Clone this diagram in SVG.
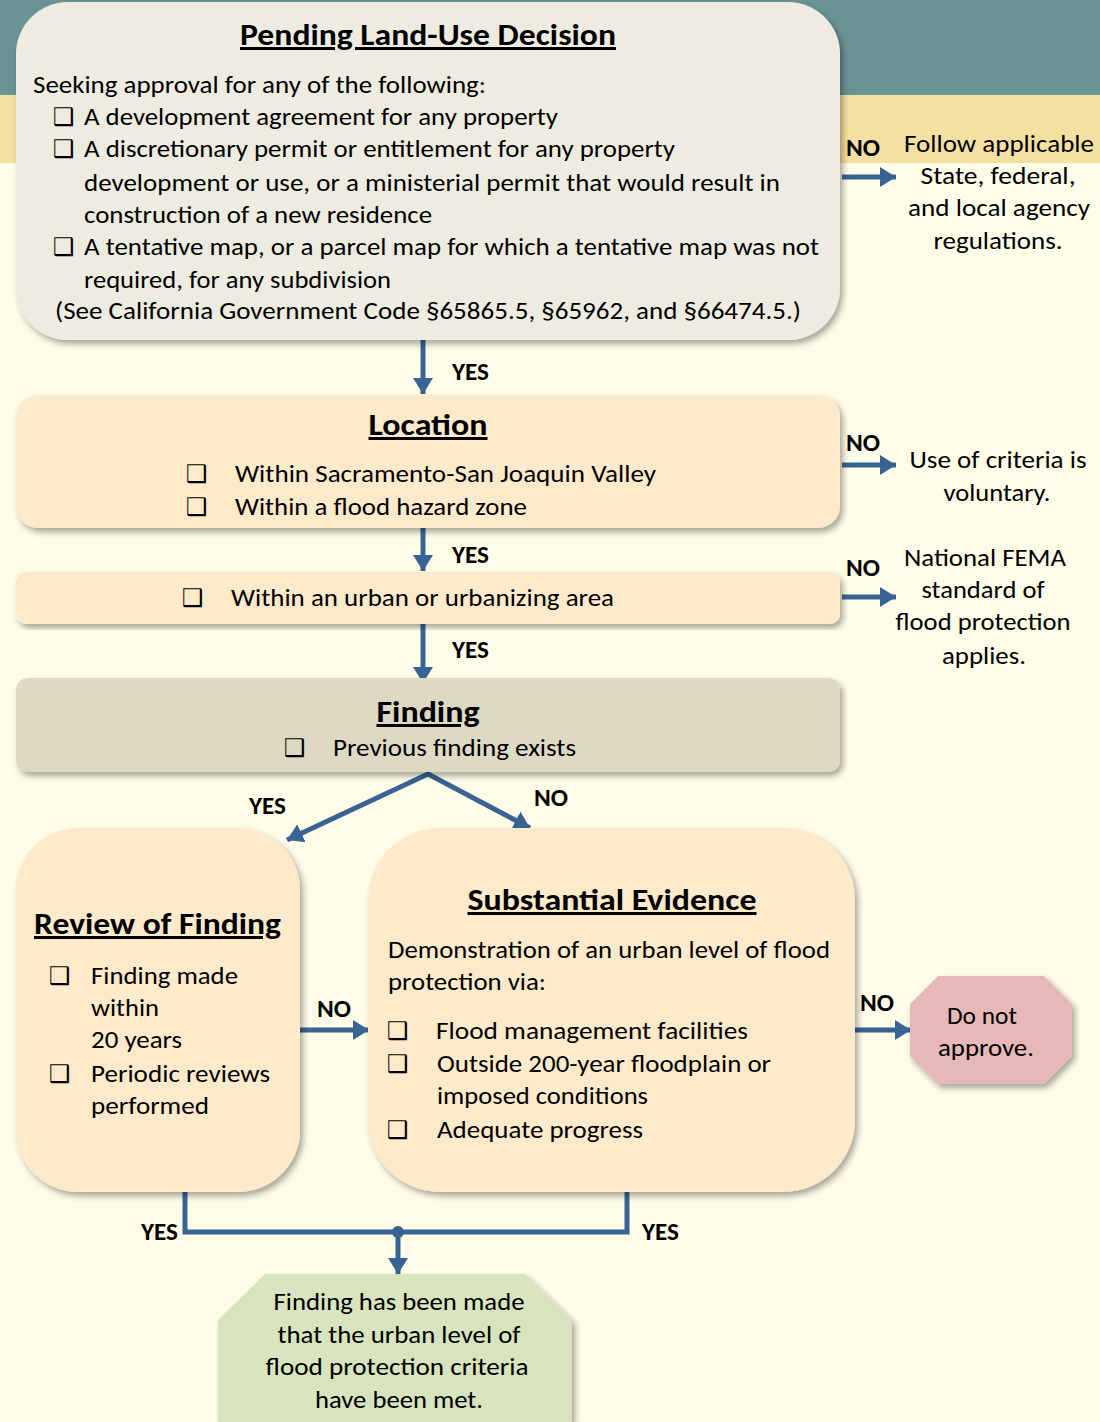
<svg xmlns="http://www.w3.org/2000/svg" width="1100" height="1422" viewBox="0 0 1100 1422">
<style>
text{font-family:Carlito,Lato,"Liberation Sans",sans-serif;fill:#000;}
.t{font-size:25px;}
.h{font-size:30px;font-weight:bold;text-decoration:underline;}
.lb{font-size:24px;font-weight:bold;}
.cb{font-family:"DejaVu Sans",sans-serif;font-size:24px;font-weight:bold;}
.c{text-anchor:middle;}
.con{stroke:#386394;stroke-width:5;fill:none;}
</style>
<defs>
<filter id="sh" x="-10%" y="-10%" width="120%" height="120%">
<feDropShadow dx="3" dy="4" stdDeviation="3" flood-color="#000" flood-opacity="0.35"/>
</filter>
<marker id="ah" markerUnits="userSpaceOnUse" markerWidth="18" markerHeight="22" refX="16" refY="11" orient="auto-start-reverse">
<path d="M0,1 L16,11 L0,21 Z" fill="#386394"/>
</marker>
</defs>
<rect x="0" y="0" width="1100" height="1422" fill="#fffde8"/>
<rect x="0" y="0" width="1100" height="95" fill="#6a9396"/>
<rect x="0" y="95" width="1100" height="68" fill="#f5e0a2"/>

<g id="connectors">
<line class="con" x1="842" y1="177" x2="896" y2="177" marker-end="url(#ah)"/>
<line class="con" x1="423" y1="340" x2="423" y2="394" marker-end="url(#ah)"/>
<line class="con" x1="842" y1="465" x2="896" y2="465" marker-end="url(#ah)"/>
<line class="con" x1="423" y1="528" x2="423" y2="571" marker-end="url(#ah)"/>
<line class="con" x1="842" y1="597" x2="896" y2="597" marker-end="url(#ah)"/>
<line class="con" x1="423" y1="624" x2="423" y2="683" marker-end="url(#ah)"/>
<path class="con" d="M287,840 L428,774 L530,828" marker-start="url(#ah)" marker-end="url(#ah)"/>
<line class="con" x1="300" y1="1030" x2="369" y2="1030" marker-end="url(#ah)"/>
<line class="con" x1="855" y1="1030" x2="911" y2="1030" marker-end="url(#ah)"/>
<polyline class="con" points="185,1192 185,1232 627,1232 627,1192"/>
<circle cx="398" cy="1232" r="6" fill="#386394"/>
<line class="con" x1="398" y1="1232" x2="398" y2="1274" marker-end="url(#ah)"/>
<text class="lb" x="846" y="156" textLength="34" lengthAdjust="spacingAndGlyphs">NO</text>
<text class="lb" x="452" y="380" textLength="37" lengthAdjust="spacingAndGlyphs">YES</text>
<text class="lb" x="846" y="451" textLength="34" lengthAdjust="spacingAndGlyphs">NO</text>
<text class="lb" x="452" y="563" textLength="37" lengthAdjust="spacingAndGlyphs">YES</text>
<text class="lb" x="846" y="576" textLength="34" lengthAdjust="spacingAndGlyphs">NO</text>
<text class="lb" x="452" y="658" textLength="37" lengthAdjust="spacingAndGlyphs">YES</text>
<text class="lb" x="249" y="814" textLength="37" lengthAdjust="spacingAndGlyphs">YES</text>
<text class="lb" x="534" y="806" textLength="34" lengthAdjust="spacingAndGlyphs">NO</text>
<text class="lb" x="317" y="1017" textLength="34" lengthAdjust="spacingAndGlyphs">NO</text>
<text class="lb" x="860" y="1011" textLength="34" lengthAdjust="spacingAndGlyphs">NO</text>
<text class="lb" x="141" y="1240" textLength="37" lengthAdjust="spacingAndGlyphs">YES</text>
<text class="lb" x="642" y="1240" textLength="37" lengthAdjust="spacingAndGlyphs">YES</text>
</g>

<g id="pending">
<rect x="16" y="2" width="824" height="338" rx="52" fill="#eeece1" filter="url(#sh)"/>
<text class="h c" x="428" y="45" textLength="376" lengthAdjust="spacingAndGlyphs">Pending Land-Use Decision</text>
<text class="t" x="33" y="93" textLength="453" lengthAdjust="spacingAndGlyphs">Seeking approval for any of the following:</text>
<text class="cb" x="53" y="125">❑</text>
<text class="t" x="84" y="125" textLength="474" lengthAdjust="spacingAndGlyphs">A development agreement for any property</text>
<text class="cb" x="53" y="157">❑</text>
<text class="t" x="84" y="157" textLength="591" lengthAdjust="spacingAndGlyphs">A discretionary permit or entitlement for any property</text>
<text class="t" x="84" y="191" textLength="696" lengthAdjust="spacingAndGlyphs">development or use, or a ministerial permit that would result in</text>
<text class="t" x="84" y="223" textLength="348" lengthAdjust="spacingAndGlyphs">construction of a new residence</text>
<text class="cb" x="53" y="255">❑</text>
<text class="t" x="84" y="255" textLength="735" lengthAdjust="spacingAndGlyphs">A tentative map, or a parcel map for which a tentative map was not</text>
<text class="t" x="84" y="288" textLength="307" lengthAdjust="spacingAndGlyphs">required, for any subdivision</text>
<text class="t" x="55" y="319" textLength="746" lengthAdjust="spacingAndGlyphs">(See California Government Code §65865.5, §65962, and §66474.5.)</text>
</g>

<g id="follow">
<text class="t c" x="999" y="152" textLength="190" lengthAdjust="spacingAndGlyphs">Follow applicable</text>
<text class="t c" x="998" y="184" textLength="155" lengthAdjust="spacingAndGlyphs">State, federal,</text>
<text class="t c" x="999" y="216" textLength="182" lengthAdjust="spacingAndGlyphs">and local agency</text>
<text class="t c" x="998" y="249" textLength="129" lengthAdjust="spacingAndGlyphs">regulations.</text>
</g>

<g id="location">
<rect x="16" y="395" width="824" height="133" rx="22" fill="#fdeacb" filter="url(#sh)"/>
<text class="h c" x="428" y="435" textLength="119" lengthAdjust="spacingAndGlyphs">Location</text>
<text class="cb" x="186" y="482">❑</text>
<text class="t" x="235" y="482" textLength="421" lengthAdjust="spacingAndGlyphs">Within Sacramento-San Joaquin Valley</text>
<text class="cb" x="186" y="515">❑</text>
<text class="t" x="235" y="515" textLength="292" lengthAdjust="spacingAndGlyphs">Within a flood hazard zone</text>
</g>

<g id="voluntary">
<text class="t c" x="998" y="468" textLength="177" lengthAdjust="spacingAndGlyphs">Use of criteria is</text>
<text class="t c" x="997" y="501" textLength="107" lengthAdjust="spacingAndGlyphs">voluntary.</text>
</g>

<g id="urban">
<rect x="16" y="572" width="824" height="52" rx="10" fill="#fdeacb" filter="url(#sh)"/>
<text class="cb" x="182" y="606">❑</text>
<text class="t" x="231" y="606" textLength="383" lengthAdjust="spacingAndGlyphs">Within an urban or urbanizing area</text>
</g>

<g id="fema">
<text class="t c" x="985" y="566" textLength="162" lengthAdjust="spacingAndGlyphs">National FEMA</text>
<text class="t c" x="983" y="598" textLength="123" lengthAdjust="spacingAndGlyphs">standard of</text>
<text class="t c" x="983" y="630" textLength="175" lengthAdjust="spacingAndGlyphs">flood protection</text>
<text class="t c" x="984" y="664" textLength="84" lengthAdjust="spacingAndGlyphs">applies.</text>
</g>

<g id="finding">
<rect x="16" y="678" width="824" height="94" rx="12" fill="#ddd9c3" filter="url(#sh)"/>
<text class="h c" x="428" y="722" textLength="103" lengthAdjust="spacingAndGlyphs">Finding</text>
<text class="cb" x="284" y="756">❑</text>
<text class="t" x="333" y="756" textLength="243" lengthAdjust="spacingAndGlyphs">Previous finding exists</text>
</g>

<g id="review">
<rect x="16" y="828" width="284" height="364" rx="62" fill="#fdeacb" filter="url(#sh)"/>
<text class="h" x="34" y="934" textLength="247" lengthAdjust="spacingAndGlyphs">Review of Finding</text>
<text class="cb" x="49" y="984">❑</text>
<text class="t" x="91" y="984" textLength="147" lengthAdjust="spacingAndGlyphs">Finding made</text>
<text class="t" x="91" y="1016" textLength="68" lengthAdjust="spacingAndGlyphs">within</text>
<text class="t" x="91" y="1048" textLength="91" lengthAdjust="spacingAndGlyphs">20 years</text>
<text class="cb" x="49" y="1082">❑</text>
<text class="t" x="91" y="1082" textLength="179" lengthAdjust="spacingAndGlyphs">Periodic reviews</text>
<text class="t" x="91" y="1114" textLength="118" lengthAdjust="spacingAndGlyphs">performed</text>
</g>

<g id="evidence">
<rect x="368" y="828" width="487" height="364" rx="72" fill="#fdeacb" filter="url(#sh)"/>
<text class="h c" x="612" y="910" textLength="289" lengthAdjust="spacingAndGlyphs">Substantial Evidence</text>
<text class="t" x="388" y="958" textLength="442" lengthAdjust="spacingAndGlyphs">Demonstration of an urban level of flood</text>
<text class="t" x="388" y="990" textLength="158" lengthAdjust="spacingAndGlyphs">protection via:</text>
<text class="cb" x="387" y="1039">❑</text>
<text class="t" x="436" y="1039" textLength="312" lengthAdjust="spacingAndGlyphs">Flood management facilities</text>
<text class="cb" x="387" y="1072">❑</text>
<text class="t" x="437" y="1072" textLength="334" lengthAdjust="spacingAndGlyphs">Outside 200-year floodplain or</text>
<text class="t" x="437" y="1104" textLength="211" lengthAdjust="spacingAndGlyphs">imposed conditions</text>
<text class="cb" x="387" y="1138">❑</text>
<text class="t" x="437" y="1138" textLength="206" lengthAdjust="spacingAndGlyphs">Adequate progress</text>
</g>

<g id="donot">
<polygon points="938,976 1044,976 1072,1004 1072,1056 1044,1084 938,1084 910,1056 910,1004" fill="#e6b8b7" filter="url(#sh)"/>
<text class="t c" x="982" y="1024" textLength="70" lengthAdjust="spacingAndGlyphs">Do not</text>
<text class="t c" x="986" y="1056" textLength="96" lengthAdjust="spacingAndGlyphs">approve.</text>
</g>

<g id="met">
<polygon points="265,1274 525,1274 572,1320 572,1422 218,1422 218,1320" fill="#d7e4bd" filter="url(#sh)"/>
<text class="t c" x="399" y="1310" textLength="251" lengthAdjust="spacingAndGlyphs">Finding has been made</text>
<text class="t c" x="399" y="1343" textLength="243" lengthAdjust="spacingAndGlyphs">that the urban level of</text>
<text class="t c" x="397" y="1375" textLength="263" lengthAdjust="spacingAndGlyphs">flood protection criteria</text>
<text class="t c" x="399" y="1408" textLength="168" lengthAdjust="spacingAndGlyphs">have been met.</text>
</g>
</svg>
